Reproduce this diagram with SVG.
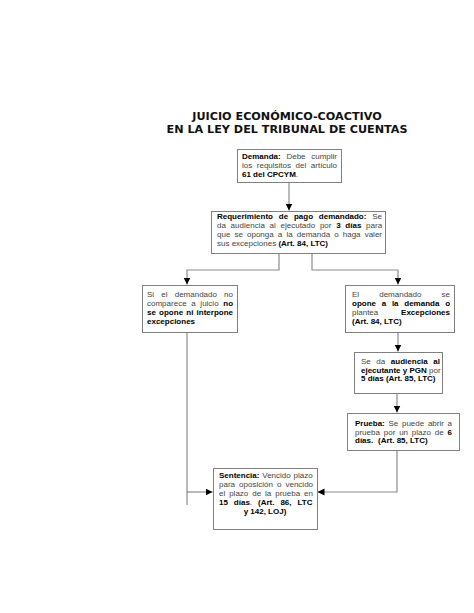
<svg xmlns="http://www.w3.org/2000/svg" width="474" height="613" viewBox="0 0 474 613">
<style>
.box{fill:#fff;stroke:#808080;stroke-width:1}
.con{fill:none;stroke:#8c8c8c;stroke-width:1.2}
.t{font-family:"Liberation Sans",Arial,sans-serif;font-size:8px;fill:#444}
.b{font-weight:bold;fill:#000}
.title{font-family:"DejaVu Sans",sans-serif;font-weight:bold;font-size:11.2px;fill:#111;text-anchor:middle}
</style>
<defs>
<marker id="ah" markerUnits="userSpaceOnUse" markerWidth="8" markerHeight="8" refX="7" refY="3.5" orient="auto">
<path d="M0,0 L7,3.5 L0,7 z" fill="#000"/>
</marker>
</defs>
<rect width="474" height="613" fill="#fff"/>
<g id="title">
<text class="title" x="287" y="120">JUICIO ECONÓMICO-COACTIVO</text>
<text class="title" x="287" y="133">EN LA LEY DEL TRIBUNAL DE CUENTAS</text>
</g>
<g id="connectors">
<path class="con" d="M289,182.5 V210.5" marker-end="url(#ah)"/>
<path class="con" d="M279,253.5 V270 H187 V284.5" marker-end="url(#ah)"/>
<path class="con" d="M312,253.5 V270 H398 V284.5" marker-end="url(#ah)"/>
<path class="con" d="M398,332.5 V351.5" marker-end="url(#ah)"/>
<path class="con" d="M397,393.5 V412.5" marker-end="url(#ah)"/>
<path class="con" d="M397,450.5 V492 H317.5" marker-end="url(#ah)"/>
<path class="con" d="M187,332.5 V505"/>
<path class="con" d="M187,492 H212.5" marker-end="url(#ah)"/>
</g>
<g id="demanda">
<rect class="box" x="237.5" y="149.5" width="104" height="33"/>
<text class="t" x="242" y="159" style="word-spacing:3.49px"><tspan class="b">Demanda:</tspan> Debe cumplir</text>
<text class="t" x="242" y="168" style="word-spacing:2.33px">los requisitos del artículo</text>
<text class="t" x="242" y="177"><tspan class="b">61 del CPCYM</tspan>.</text>
</g>
<g id="requerimiento">
<rect class="box" x="211.5" y="211.5" width="174" height="42"/>
<text class="t" x="217" y="219" style="word-spacing:3.58px"><tspan class="b">Requerimiento de pago demandado:</tspan> Se</text>
<text class="t" x="217" y="228" style="word-spacing:2.49px">da audiencia al ejecutado por <tspan class="b">3 días</tspan> para</text>
<text class="t" x="217" y="237" style="word-spacing:1.89px">que se oponga a la demanda o haga valer</text>
<text class="t" x="217" y="246">sus excepciones <tspan class="b">(Art. 84, LTC)</tspan></text>
</g>
<g id="no-opone">
<rect class="box" x="142.5" y="285.5" width="95" height="47"/>
<text class="t" x="147" y="297" style="word-spacing:4.95px">Si el demandado no</text>
<text class="t" x="147" y="306" style="word-spacing:2.44px">comparece a juicio <tspan class="b">no</tspan></text>
<text class="t b" x="147" y="314.5" style="word-spacing:0.96px">se opone ni interpone</text>
<text class="t b" x="147" y="323.5">excepciones</text>
</g>
<g id="opone">
<rect class="box" x="345.5" y="285.5" width="109" height="47"/>
<text class="t" x="352" y="297" style="word-spacing:17.87px">El demandado se</text>
<text class="t b" x="352" y="306" style="word-spacing:3.5px">opone a la demanda o</text>
<text class="t" x="352" y="314.5">plantea</text>
<text class="t b" x="450" y="314.5" text-anchor="end">Excepciones</text>
<text class="t b" x="352" y="323.5">(Art. 84, LTC)</text>
</g>
<g id="audiencia">
<rect class="box" x="354.5" y="352.5" width="88" height="41"/>
<text class="t" x="361" y="364" style="word-spacing:3.36px">Se da <tspan class="b">audiencia al</tspan></text>
<text class="t" x="361" y="372.5"><tspan class="b">ejecutante y PGN</tspan> por</text>
<text class="t b" x="361" y="381">5 días (Art. 85, LTC)</text>
</g>
<g id="prueba">
<rect class="box" x="347.5" y="413.5" width="112" height="37"/>
<text class="t" x="355" y="426" style="word-spacing:1.47px"><tspan class="b">Prueba:</tspan> Se puede abrir a</text>
<text class="t" x="355" y="434.5" style="word-spacing:1.61px">prueba por un plazo de <tspan class="b">6</tspan></text>
<text class="t b" x="355" y="443">días.</text>
<text class="t b" x="378" y="443">(Art. 85, LTC)</text>
</g>
<g id="sentencia">
<rect class="box" x="213.5" y="468.5" width="104" height="61"/>
<text class="t" x="219" y="478" style="word-spacing:0.54px"><tspan class="b">Sentencia:</tspan> Vencido plazo</text>
<text class="t" x="219" y="487" style="word-spacing:1.84px">para oposición o vencido</text>
<text class="t" x="219" y="496" style="word-spacing:1.72px">el plazo de la prueba en</text>
<text class="t" x="219" y="505" style="word-spacing:3.72px"><tspan class="b">15 días</tspan>. <tspan class="b">(Art. 86, LTC</tspan></text>
<text class="t b" x="265" y="514" text-anchor="middle">y 142, LOJ)</text>
</g>
</svg>
